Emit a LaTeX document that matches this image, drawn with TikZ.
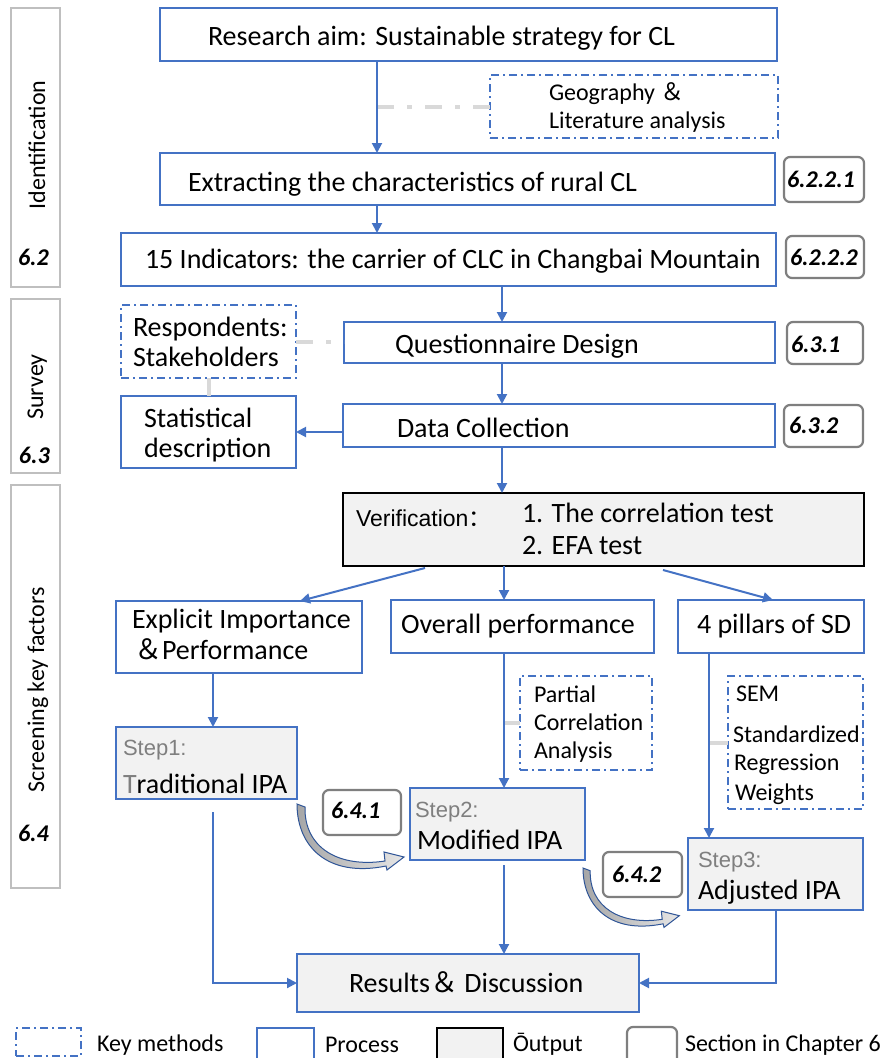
\documentclass[tikz,border=0pt]{standalone}
\usepackage{fontspec}
\setmainfont{Carlito}
\newfontfamily\arialf{Liberation Sans}
\newfontfamily\cjkf{Noto Sans CJK SC}
\usetikzlibrary{arrows.meta}
\definecolor{pblue}{HTML}{4472C4}
\definecolor{dblue}{HTML}{2F5597}
\definecolor{lgray}{HTML}{BFBFBF}
\definecolor{sgray}{HTML}{7F7F7F}
\definecolor{ofill}{HTML}{F2F2F2}
\definecolor{cgray}{HTML}{D9D9D9}
\definecolor{tgray}{HTML}{7F7F7F}
\definecolor{cfillA}{HTML}{A6A6A6}
\definecolor{cfillB}{HTML}{E6E6E6}
\newcommand\fszA{\fontsize{28}{32}\selectfont}
\newcommand\fszB{\fontsize{24}{28}\selectfont}
\newcommand\fszS{\fontsize{22}{26}\selectfont}
\newcommand\fszN{\fontsize{24}{28}\selectfont}
\newcommand\mybox[6]{%
  \pgfmathsetmacro\bxw{#5-#3}\pgfmathsetmacro\bxh{#6-#4}%
  \node[#1, minimum width=\bxw pt, minimum height=\bxh pt] (#2) at (#3,#4) {};}
\newcommand\curvarr{%
  \draw[draw=dblue, line width=1pt, left color=cfillA, right color=cfillB]
   (0,0) .. controls (0,42) and (30,74) .. (89,62) -- (90,66) -- (107,53) -- (87,48) -- (88,57)
   .. controls (42,64) and (7,44) .. (8,3) -- cycle;}
\tikzset{
  boxbase/.style={inner sep=0pt, outer sep=0pt, anchor=north west},
  proc/.style={boxbase, draw=pblue, line width=1.6pt, fill=white},
  outp/.style={proc, fill=ofill},
  meth/.style={boxbase, draw=pblue, line width=1.4pt, dash pattern=on 8pt off 4pt on 2pt off 4pt},
  secb/.style={boxbase, draw=sgray, line width=2.2pt, rounded corners=6pt, fill=white},
  side/.style={boxbase, draw=lgray, line width=2pt},
  verb/.style={boxbase, draw=black, line width=2pt, fill=ofill},
  txt/.style={anchor=base west, inner sep=0pt, outer sep=0pt, font=\fszA},
  txs/.style={txt, font=\fszB},
  stp/.style={txt, font=\arialf\fszS, text=tgray},
  secn/.style={txt, font=\fszN\bfseries\itshape},
  rot/.style={rotate=90, anchor=base, inner sep=0pt, font=\fszB},
  arr/.style={draw=pblue, line width=2pt, -{Triangle[length=10pt,width=10pt]}},
  glink/.style={draw=cgray, line width=4pt},
  gdash/.style={glink, dash pattern=on 17pt off 13pt on 5pt off 13pt},
}
\begin{document}
\begin{tikzpicture}[x=1pt,y=-1pt]
\useasboundingbox (0,0) rectangle (883,1058);
\clip (0,0) rectangle (883,1058);
% column coordinates
\coordinate (xa) at (377,0);
\coordinate (xb) at (502,0);
\coordinate (xo) at (504,0);
\coordinate (xe) at (213,0);
\coordinate (xp) at (709,0);
\coordinate (xs) at (776,0);
\coordinate (xv1) at (425,0);
\coordinate (xv2) at (300,0);
\coordinate (xv3) at (663,0);
\coordinate (xv4) at (773,0);
% side bars
\mybox{side}{sid1}{11}{8}{60}{287}
\mybox{side}{sid2}{11}{299}{60}{473}
\mybox{side}{sid3}{11}{485}{60}{888}
\node[rot] (sid1-t) at (45,145) {Identification};
\node[rot] (sid2-t) at (43,387) {Survey};
\node[rot] (sid3-t) at (44,690) {Screening key factors};
\node[secn] (sid1-n) at (18,265) {6.2};
\node[secn] (sid2-n) at (19,463) {6.3};
\node[secn] (sid3-n) at (18,841) {6.4};
% boxes
\mybox{proc}{ra}{160}{8}{777}{61}
\node[txt] (ra-t) at (208,45) {Research aim: Sustainable strategy for CL};
\mybox{meth}{geo}{490}{75}{778}{138}
\node[txs] (geo-t1) at (549,100) {Geography {\cjkf ＆}};
\node[txs] (geo-t2) at (549,128) {Literature analysis};
\mybox{proc}{ext}{160}{153}{775}{205}
\node[txt] (ext-t) at (188,191) {Extracting the characteristics of rural CL};
\mybox{secb}{s2221}{784}{157}{864}{202}
\node[secn] (s2221-t) at (787,187) {6.2.2.1};
\mybox{proc}{ind}{121}{233}{776}{286}
\node[txt] (ind-t) at (145,268) {15 Indicators: the carrier of CLC in Changbai Mountain};
\mybox{secb}{s2222}{786}{236}{864}{278}
\node[secn] (s2222-t) at (790,265) {6.2.2.2};
\mybox{meth}{resp}{121}{305}{296}{378}
\node[txt] (resp-t1) at (133,336) {Respondents:};
\node[txt] (resp-t2) at (133,366) {Stakeholders};
\mybox{proc}{qd}{344}{322}{775}{363}
\node[txt] (qd-t) at (395,353) {Questionnaire Design};
\mybox{secb}{s631}{787}{322}{863}{364}
\node[secn] (s631-t) at (791,352) {6.3.1};
\mybox{proc}{stat}{121}{396}{296}{468}
\node[txt] (stat-t1) at (144,427) {Statistical};
\node[txt] (stat-t2) at (144,457) {description};
\mybox{proc}{dc}{343}{404}{775}{447}
\node[txt] (dc-t) at (397,437) {Data Collection};
\mybox{secb}{s632}{784}{405}{863}{447}
\node[secn] (s632-t) at (789,433) {6.3.2};
\mybox{verb}{ver}{343}{493}{864}{566}
\node[txt, font=\arialf\fontsize{23}{27}\selectfont] (ver-t0) at (356,526) {Verification{\cjkf ：}};
\node[txt] (ver-t1) at (522,522) {1. The correlation test};
\node[txt] (ver-t2) at (522,554) {2. EFA test};
\mybox{proc}{eip}{116}{601}{362}{673}
\node[txt] (eip-t1) at (132,628) {Explicit Importance};
\node[txt] (eip-t2) at (134,659) {{\cjkf ＆}Performance};
\mybox{proc}{op}{391}{600}{654}{653}
\node[txt] (op-t) at (401,633) {Overall performance};
\mybox{proc}{pil}{678}{600}{864}{653}
\node[txt] (pil-t) at (697,633) {4 pillars of SD};
\mybox{meth}{pca}{520}{676}{652}{770}
\node[txs] (pca-t1) at (534,702) {Partial};
\node[txs] (pca-t2) at (534,730) {Correlation};
\node[txs] (pca-t3) at (534,758) {Analysis};
\mybox{meth}{sem}{728}{676}{863}{809}
\node[txs] (sem-t1) at (736,701) {SEM};
\node[txs] (sem-t2) at (733,742) {Standardized};
\node[txs] (sem-t3) at (734,770) {Regression};
\node[txs] (sem-t4) at (735,800) {Weights};
% gray links
\draw[gdash] (geo.west -| xa) -- (geo.west);
\draw[gdash] (resp.east) -- (qd.west |- resp.east);
\draw[glink] (resp.south) -- (stat.north);
\draw[glink] (pca.west -| xo) -- (pca.west);
\draw[glink] (sem.west -| xp) -- (sem.west);
% output boxes
\mybox{outp}{s1}{116}{727}{297}{799}
\node[stp] (s1-t1) at (123,755) {Step1:};
\node[txt] (s1-t2) at (123,793) {{\color{tgray}T}raditional IPA};
\mybox{outp}{s2}{410}{788}{585}{860}
\node[stp] (s2-t1) at (415,817) {Step2:};
\node[txt] (s2-t2) at (417,849) {Modified IPA};
\mybox{outp}{s3}{688}{838}{863}{910}
\node[stp] (s3-t1) at (698,867) {Step3:};
\node[txt] (s3-t2) at (698,899) {Adjusted IPA};
\mybox{secb}{s641}{323}{790}{401}{835}
\node[secn] (s641-t) at (331,818) {6.4.1};
\mybox{secb}{s642}{603}{852}{682}{897}
\node[secn] (s642-t) at (612,882) {6.4.2};
\mybox{outp}{res}{297}{954}{639}{1012}
\node[txt] (res-t) at (349,992) {Results{\cjkf ＆} Discussion};
% curved block arrows
\begin{scope}[shift={(297,804)}]\curvarr\end{scope}
\begin{scope}[shift={(583,868)}, scale=0.9]\curvarr\end{scope}
% arrows
\draw[arr] (ra.south -| xa) -- (ext.north -| xa);
\draw[arr] (ext.south -| xa) -- (ind.north -| xa);
\draw[arr] (ind.south -| xb) -- (qd.north -| xb);
\draw[arr] (qd.south -| xb) -- (dc.north -| xb);
\draw[arr] (dc.south -| xb) -- (ver.north -| xb);
\draw[arr] (dc.west |- stat.east) -- (stat.east);
\draw[arr] ([yshift=-2pt]ver.south -| xv1) -- (eip.north -| xv2);
\draw[arr] (ver.south -| xo) -- (op.north -| xo);
\draw[arr] ([yshift=-4pt]ver.south -| xv3) -- (pil.north -| xv4);
\draw[arr] (eip.south -| xe) -- (s1.north -| xe);
\draw[arr] (op.south -| xo) -- (s2.north -| xo);
\draw[arr] (pil.south -| xp) -- (s3.north -| xp);
\draw[arr, shorten <=13pt] (s1.south -| xe) |- (res.west);
\draw[arr, shorten <=5pt] (s2.south -| xo) -- (res.north -| xo);
\draw[arr] (s3.south -| xs) |- (res.east);
% legend
\mybox{meth}{lg1}{16}{1028}{81}{1056}
\node[txs] (lg1-t) at (97,1051) {Key methods};
\mybox{proc}{lg2}{257}{1028}{314}{1064}
\node[txs] (lg2-t) at (325,1052) {Process};
\mybox{verb}{lg3}{437}{1028}{503}{1064}
\node[txs] (lg3-t) at (513,1051) {Ōutput};
\mybox{secb}{lg4}{627}{1027}{677}{1066}
\node[txs] (lg4-t) at (685,1051) {Section in Chapter 6};
\end{tikzpicture}
\end{document}
